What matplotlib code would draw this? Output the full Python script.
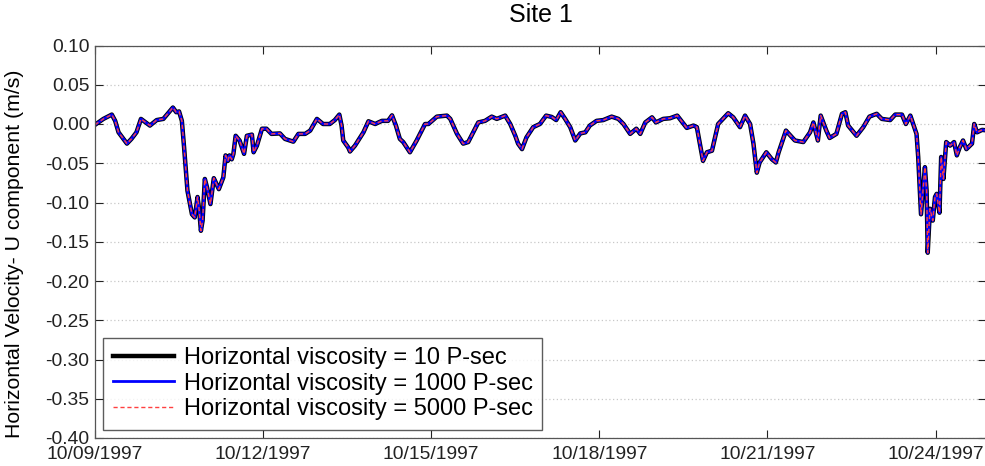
import datetime as dt
import matplotlib
matplotlib.use('Agg')
import matplotlib.pyplot as plt
import matplotlib.dates as mdates

plt.rcParams['font.family'] = ['Liberation Sans', 'DejaVu Sans']

# days since 10/09/1997 00:00
days = [0.00, 0.15, 0.30, 0.36, 0.42, 0.57, 0.65, 0.74, 0.82, 0.98,
        1.10, 1.22, 1.39, 1.45, 1.50, 1.55, 1.59, 1.65, 1.73, 1.78,
        1.83, 1.86, 1.89, 1.92, 1.96, 2.00, 2.06, 2.12, 2.21, 2.29,
        2.33, 2.37, 2.40, 2.44, 2.47, 2.51, 2.58, 2.66, 2.71, 2.80,
        2.83, 2.89, 2.98, 3.06, 3.15, 3.30, 3.39, 3.54, 3.63, 3.75,
        3.84, 3.96, 4.07, 4.19, 4.28, 4.36, 4.40, 4.43, 4.52, 4.55,
        4.64, 4.79, 4.88, 5.00, 5.12, 5.23, 5.30, 5.37, 5.44, 5.50,
        5.62, 5.74, 5.89, 5.95, 6.10, 6.28, 6.34, 6.46, 6.57, 6.66,
        6.75, 6.84, 6.96, 7.08, 7.17, 7.32, 7.41, 7.50, 7.55, 7.62,
        7.70, 7.82, 7.94, 8.05, 8.15, 8.23, 8.31, 8.39, 8.48, 8.57,
        8.66, 8.75, 8.83, 8.95, 9.07, 9.22, 9.34, 9.43, 9.55, 9.66,
        9.73, 9.82, 9.94, 10.01, 10.14, 10.26, 10.39, 10.56, 10.68, 10.74,
        10.80, 10.85, 10.92, 11.01, 11.12, 11.30, 11.39, 11.51, 11.60, 11.69,
        11.75, 11.81, 11.86, 11.98, 12.08, 12.15, 12.20, 12.33, 12.49, 12.64,
        12.76, 12.82, 12.90, 12.95, 13.05, 13.11, 13.23, 13.33, 13.39, 13.44,
        13.59, 13.71, 13.82, 13.95, 14.04, 14.19, 14.28, 14.40, 14.47, 14.55,
        14.60, 14.66, 14.69, 14.74, 14.77, 14.81, 14.84, 14.86, 14.90, 14.95,
        14.99, 15.02, 15.07, 15.10, 15.14, 15.19, 15.26, 15.33, 15.38, 15.43,
        15.49, 15.55, 15.65, 15.69, 15.74, 15.83, 15.90]

u_10 = [-0.001, 0.0065, 0.012, 0.004, -0.0106, -0.025, -0.019, -0.0106, 0.0065, -0.002,
        0.005, 0.0065, 0.021, 0.015, 0.016, 0.004, -0.030, -0.085, -0.115, -0.119,
        -0.093, -0.110, -0.136, -0.123, -0.070, -0.081, -0.102, -0.069, -0.083, -0.068,
        -0.040, -0.047, -0.040, -0.045, -0.038, -0.015, -0.021, -0.038, -0.015, -0.0135,
        -0.036, -0.0275, -0.006, -0.006, -0.0126, -0.012, -0.019, -0.0225, -0.0126, -0.0126,
        -0.0084, 0.0065, 0.000, 0.000, 0.005, 0.012, -0.002, -0.021, -0.030, -0.035,
        -0.0275, -0.0106, 0.0035, 0.000, 0.004, 0.004, 0.011, -0.002, -0.019, -0.023,
        -0.036, -0.021, 0.000, 0.000, 0.0094, 0.0107, 0.0065, -0.0126, -0.025, -0.023,
        -0.0106, 0.002, 0.004, 0.0094, 0.0065, 0.0107, 0.000, -0.015, -0.025, -0.032,
        -0.017, -0.004, 0.000, 0.0107, 0.009, 0.005, 0.015, 0.0065, -0.004, -0.021,
        -0.012, -0.0106, -0.002, 0.004, 0.005, 0.0094, 0.0065, 0.000, -0.0126, -0.006,
        -0.0126, 0.002, 0.0085, 0.002, 0.0065, 0.0073, 0.0107, -0.005, -0.002, -0.004,
        -0.0275, -0.047, -0.036, -0.034, 0.000, 0.0137, 0.0085, -0.004, 0.0107, 0.000,
        -0.025, -0.062, -0.049, -0.036, -0.045, -0.049, -0.036, -0.0084, -0.021, -0.023,
        -0.0106, 0.002, -0.021, 0.0107, -0.0084, -0.0178, -0.0126, 0.013, 0.015, -0.002,
        -0.015, -0.004, 0.0094, 0.013, 0.0065, 0.005, 0.012, 0.012, 0.000, 0.0107,
        0.000, -0.0126, -0.042, -0.115, -0.089, -0.055, -0.085, -0.164, -0.108, -0.123,
        -0.093, -0.089, -0.113, -0.042, -0.070, -0.023, -0.0275, -0.023, -0.040, -0.030,
        -0.021, -0.032, -0.025, 0.000, -0.0106, -0.0075, -0.008]
# the three runs lie on top of each other in the figure
u_1000 = list(u_10)
u_5000 = list(u_10)

labels = ['Horizontal viscosity = 10 P-sec',
          'Horizontal viscosity = 1000 P-sec',
          'Horizontal viscosity = 5000 P-sec']

start = dt.datetime(1997, 10, 9)
t = [start + dt.timedelta(days=d) for d in days]
xticks = [start + dt.timedelta(days=3 * k) for k in range(6)]

fig = plt.figure(figsize=(9.85, 4.66), dpi=100)
ax = fig.add_axes([95 / 985, 28 / 466, 891 / 985, 392.5 / 466])

ax.plot(t, u_10, color='black', lw=3.2, label=labels[0])
ax.plot(t, u_1000, color='#0000ff', lw=2.0, label=labels[1])
ax.plot(t, u_5000, color='#ff4040', lw=1.0, ls='--', dashes=(3, 2), label=labels[2])

ax.set_xlim(start, start + dt.timedelta(days=15.9))
ax.set_ylim(-0.40, 0.10)
ax.set_yticks([-0.40 + 0.05 * k for k in range(11)])
ax.yaxis.set_major_formatter(matplotlib.ticker.FormatStrFormatter('%.2f'))
ax.set_xticks(xticks)
ax.xaxis.set_major_formatter(mdates.DateFormatter('%m/%d/%Y'))

ax.grid(axis='y', ls=(0, (1, 2)), color='#c8c8c8', lw=0.9)
ax.tick_params(direction='in', top=True, right=True, length=6, width=0.8,
               labelsize=13.9, colors='#222222')
ax.tick_params(axis='x', pad=6)
ax.tick_params(axis='y', pad=4)
for s in ax.spines.values():
    s.set_color('#555555')
    s.set_linewidth(0.9)

ax.set_ylabel('Horizontal Velocity- U component (m/s)', fontsize=15.3)
ax.yaxis.set_label_coords(-0.08, 0.47)
ax.set_title('Site 1', fontsize=18, pad=17)

leg = ax.legend(loc='lower left', fontsize=17, frameon=True, fancybox=False,
                edgecolor='#333333', handlelength=2.6, handletextpad=0.4,
                labelspacing=0.15, borderpad=0.4, borderaxespad=0.35)
leg.get_frame().set_linewidth(1.0)

fig.savefig('out.png', dpi=100)
